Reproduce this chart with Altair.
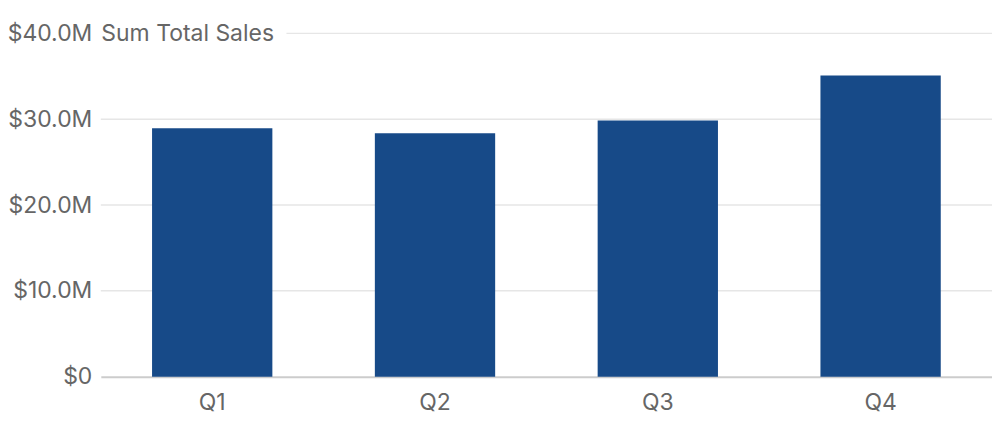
import altair as alt
import pandas as pd

quarters = ["Q1", "Q2", "Q3", "Q4"]
sales = [28_950_000, 28_350_000, 29_850_000, 35_100_000]
grid_values = [10_000_000, 20_000_000, 30_000_000]
top_grid = [40_000_000]
tick_values = [0, 10_000_000, 20_000_000, 30_000_000, 40_000_000]

W, H = 893, 344
FONT = "Inter"
FS = 23
LABEL_COLOR = "#666666"

df = pd.DataFrame({"quarter": quarters, "sales": sales})
grid_df = pd.DataFrame({"sales": grid_values})
top_df = pd.DataFrame({"sales": top_grid})

yscale = alt.Scale(domain=[0, 40_000_000], nice=False)
yaxis = alt.Axis(
    title="Sum Total Sales",
    titleAngle=0,
    titleX=0,
    titleY=0,
    titleAlign="left",
    titleBaseline="middle",
    titleFont=FONT,
    titleFontSize=FS,
    titleFontWeight="normal",
    titleColor=LABEL_COLOR,
    values=tick_values,
    labelExpr="datum.value == 0 ? '$0' : '$' + format(datum.value / 1e6, '.1f') + 'M'",
    labelFont=FONT,
    labelFontSize=FS,
    labelColor=LABEL_COLOR,
    labelPadding=9,
    ticks=False,
    domain=False,
    grid=False,
)
y_enc = alt.Y("sales:Q", scale=yscale, axis=yaxis)

grid = alt.Chart(grid_df).mark_rule(color="#e6e6e6", strokeWidth=1.5).encode(
    y=y_enc,
    x=alt.value(0),
    x2=alt.value(W),
)
grid_top = alt.Chart(top_df).mark_rule(color="#e6e6e6", strokeWidth=1.5).encode(
    y=y_enc,
    x=alt.value(186),
    x2=alt.value(W),
)

bars = alt.Chart(df).mark_bar(color="#174A88").encode(
    x=alt.X(
        "quarter:N",
        sort=quarters,
        scale=alt.Scale(paddingInner=0.46, paddingOuter=0.23),
        axis=alt.Axis(
            title=None,
            labelAngle=0,
            labelFont=FONT,
            labelFontSize=FS,
            labelColor=LABEL_COLOR,
            labelPadding=15,
            ticks=False,
            domainColor="#cccccc",
            domainWidth=2,
            grid=False,
        ),
    ),
    y=y_enc,
)

chart = (
    alt.layer(grid, grid_top, bars)
    .properties(
        width=W,
        height=H,
        background="white",
        autosize=alt.AutoSizeParams(type="none"),
        padding={"left": 93, "top": 25, "right": 0, "bottom": 50},
    )
    .configure_view(stroke="transparent", strokeWidth=0)
)

chart.save("out.html", embed_options={"renderer": "svg", "actions": False})
